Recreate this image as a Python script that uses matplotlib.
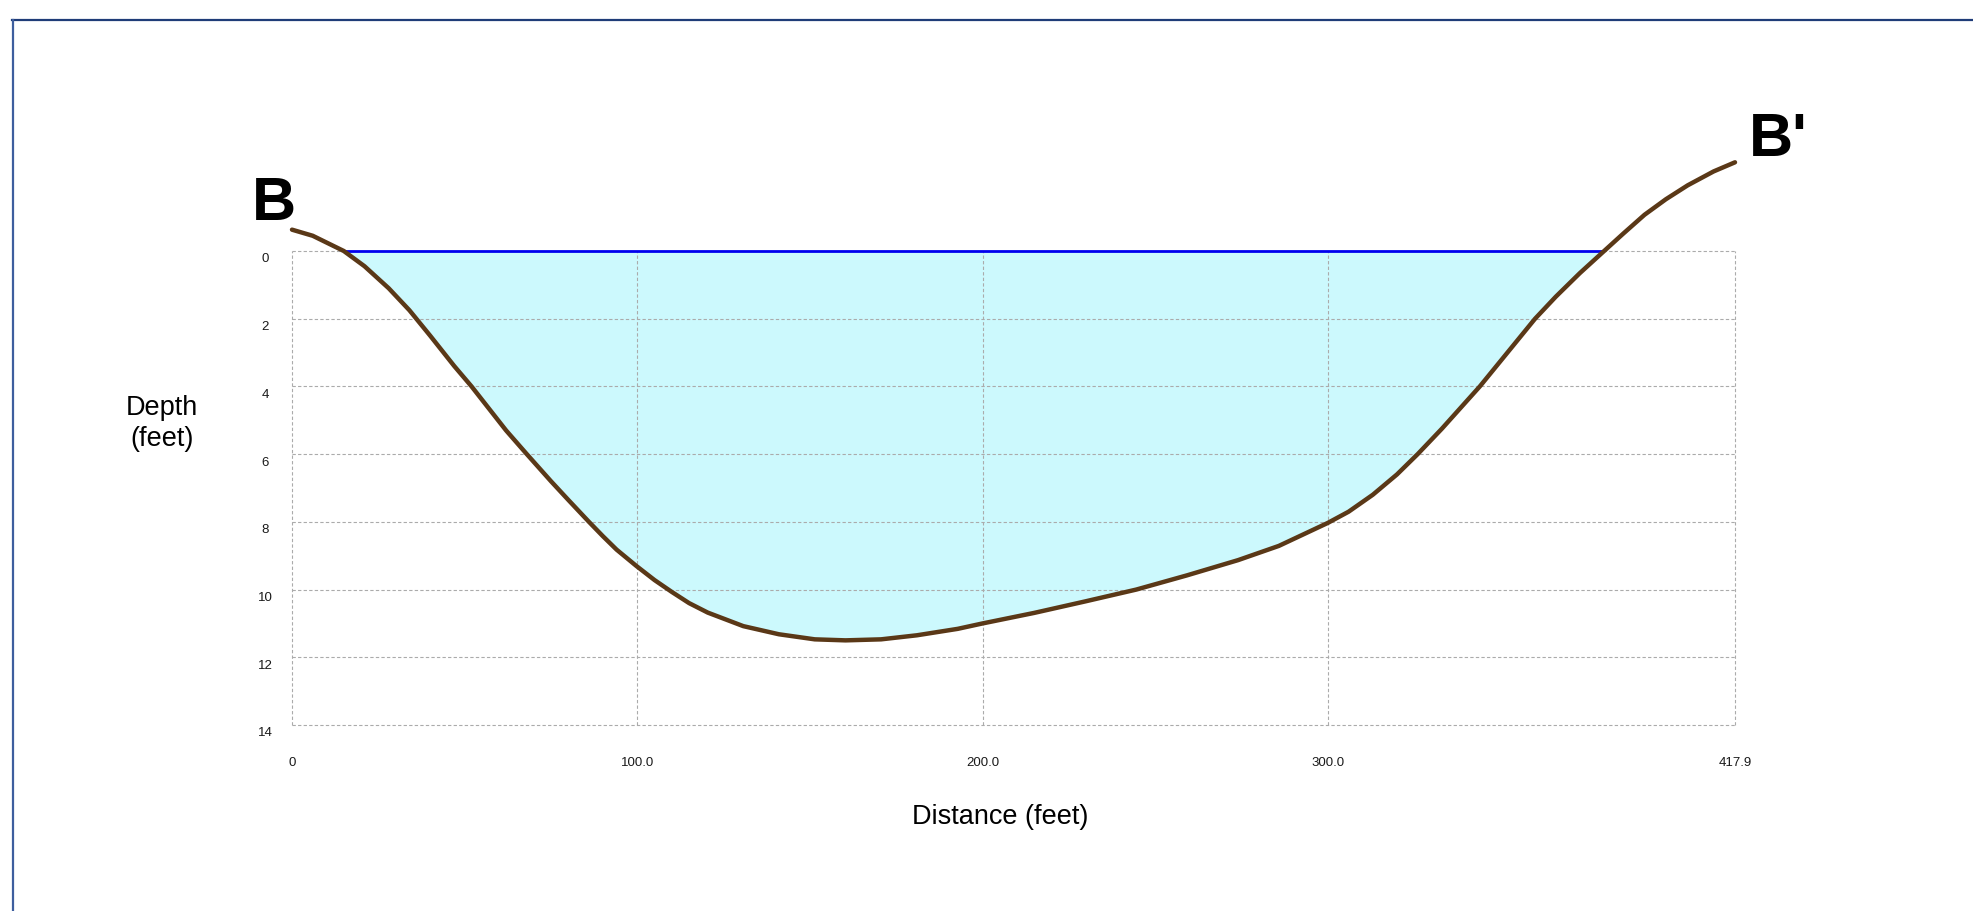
import matplotlib
matplotlib.use("Agg")
import matplotlib.pyplot as plt
import numpy as np
from matplotlib.transforms import ScaledTranslation
from matplotlib.lines import Line2D

# ---- data ----
distance = [0, 6, 11, 15, 21, 28, 34, 40, 47, 52, 57, 62, 68, 75, 80, 86, 90, 94,
            99.7, 105, 110, 115, 120.4, 130.7, 141, 151.4, 160.3, 170.6, 181, 192.8, 200,
            214.9, 229.7, 244.5, 259.2, 274, 285.8, 300, 306, 313, 320, 326, 333, 344,
            352, 360, 366, 373, 380, 385.5, 391.7, 397.9, 404.2, 411.7, 417.9]
depth = [-0.63, -0.45, -0.2, 0.0, 0.45, 1.1, 1.75, 2.5, 3.4, 4.0, 4.65, 5.3, 6.0, 6.8,
         7.35, 8.0, 8.42, 8.82, 9.3, 9.72, 10.07, 10.4, 10.68, 11.08, 11.32, 11.47, 11.5,
         11.47, 11.35, 11.16, 11.0, 10.69, 10.35, 10.0, 9.58, 9.13, 8.71, 8.03, 7.7,
         7.2, 6.6, 6.0, 5.25, 4.0, 3.0, 2.0, 1.35, 0.65, 0.0, -0.51, -1.07, -1.53, -1.94,
         -2.35, -2.62]
water_x = [15, 380]
water_level = 0.0

x_ticks = [0, 100, 200, 300, 417.9]
x_ticklabels = ["0", "100.0", "200.0", "300.0", "417.9"]
y_ticks = [0, 2, 4, 6, 8, 10, 12, 14]
y_ticklabels = ["0", "2", "4", "6", "8", "10", "12", "14"]

plt.rcParams['font.family'] = ['Liberation Sans', 'DejaVu Sans']

W, H, DPI = 1974, 912, 100
fig = plt.figure(figsize=(W / DPI, H / DPI), dpi=DPI)
fig.patch.set_facecolor('white')

ax = fig.add_axes([292 / W, 1 - 726 / H, (1735 - 292) / W, (726 - 252) / H])
ax.set_xlim(0, 417.9)
ax.set_ylim(14, 0)

d = np.array(distance)
z = np.array(depth)

ax.fill_between(d, water_level, z, where=z >= water_level, interpolate=True,
                color='#CCF9FD', linewidth=0, zorder=1)
ax.plot(water_x, [water_level, water_level], color='#0000EE', lw=2.0,
        zorder=3, clip_on=False, solid_capstyle='butt')
ax.plot(d, z, color='#5A3817', lw=3.2, zorder=4, clip_on=False,
        solid_capstyle='round', solid_joinstyle='round')

for s in ax.spines.values():
    s.set_visible(False)

ax.set_xticks(x_ticks)
ax.set_xticklabels(x_ticklabels)
ax.set_yticks(y_ticks)
ax.set_yticklabels(y_ticklabels)
ax.tick_params(axis='both', length=0, labelsize=9.5, labelcolor='#1a1a1a')
ax.tick_params(axis='x', pad=22.5)
ax.tick_params(axis='y', pad=19.5)
ax.set_axisbelow(False)
ax.grid(True, color='#ABABAB', linestyle=(0, (3, 2)), lw=0.8, zorder=2)
for gl in ax.get_xgridlines() + ax.get_ygridlines():
    gl.set_clip_on(False)
    gl.set_zorder(2)

off = ScaledTranslation(0, -6 / DPI, fig.dpi_scale_trans)
for lab in ax.get_yticklabels():
    lab.set_horizontalalignment('center')
    lab.set_transform(lab.get_transform() + off)

# axis titles
fig.text(162 / W, 1 - 424 / H, "Depth\n(feet)", ha='center', va='center',
         fontsize=19.5, linespacing=1.25, color='black')
fig.text(1000 / W, 1 - 817 / H, "Distance (feet)", ha='center', va='center',
         fontsize=19.5, color='black')

# section labels
fig.text(274 / W, 1 - 204 / H, "B", ha='center', va='center',
         fontsize=44, fontweight='bold', color='black')
fig.text(1749 / W, 1 - 141 / H, "B'", ha='left', va='center',
         fontsize=44, fontweight='bold', color='black')

# frame lines (top and left)
fig.add_artist(Line2D([12 / W, 1.0], [1 - 21 / H, 1 - 21 / H], transform=fig.transFigure,
                      color='#1F3C78', lw=1.6))
fig.add_artist(Line2D([13 / W, 13 / W], [1 - 21 / H, 0.0], transform=fig.transFigure,
                      color='#3E5E9E', lw=1.6))

fig.savefig("out.png", dpi=DPI, facecolor='white')
